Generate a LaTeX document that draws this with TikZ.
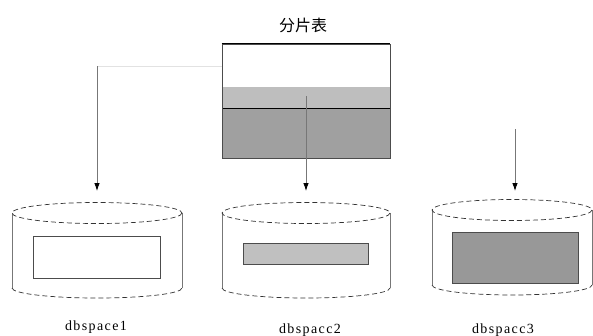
\documentclass[tikz,border=0pt]{standalone}
\usepackage{fontspec}
\newfontfamily\lblfont{Liberation Serif}[LetterSpace=10]
\newfontfamily\cjk{Noto Sans CJK SC}
\usetikzlibrary{arrows.meta}
\definecolor{lightg}{HTML}{BEBEBE}
\definecolor{darkg}{HTML}{A0A0A0}
\definecolor{midg}{HTML}{C0C0C0}
\definecolor{deepg}{HTML}{989898}
\definecolor{lineg}{HTML}{777777}
\definecolor{faintg}{HTML}{E2E2E2}
\newcommand{\dbcyl}[5]{%
  \draw[side] (#2-#3,#4) -- (#2-#3,#5);
  \draw[side] (#2+#3,#4) -- (#2+#3,#5);
  \draw[dsh] (#2,#4) ellipse [x radius=#3, y radius=10.5];
  \draw[dsh] (#2-#3,#5) arc[start angle=180, end angle=0, x radius=#3, y radius=10];
  \coordinate (#1) at (#2,#4-22);
}
\begin{document}
\begin{tikzpicture}[x=1pt,y=-1pt,
  side/.style={draw=lineg, line width=0.6pt},
  dsh/.style={draw=black!80, line width=0.7pt, dash pattern=on 5pt off 3pt},
  arr/.style={draw=lineg, line width=0.8pt, -{Latex[length=8pt,width=5.5pt,color=black]}},
  faint/.style={draw=faintg, line width=0.8pt},
  inner/.style={draw=black!70, line width=0.6pt},
  lbl/.style={font=\lblfont\fontsize{14}{16}\selectfont, inner sep=0pt}]
\useasboundingbox (0,0) rectangle (593,335);
% title
\node[font=\cjk\fontsize{16}{19}\selectfont, inner sep=0pt] (title) at (303,25) {分片表};
% table
\fill[white] (222,44) rectangle (390,87);
\fill[lightg] (222,87) rectangle (390,108);
\fill[darkg] (222,108) rectangle (390,158);
\draw[black, line width=0.9pt] (222,108) -- (390,108);
\node[draw=black!70, line width=0.7pt, minimum width=168pt, minimum height=114pt, inner sep=0pt] (tbl) at (306,101) {};
\draw[black, line width=0.9pt] (tbl.north west) -- (tbl.north east);
% cylinders
\dbcyl{c1}{97}{85}{213}{288}
\dbcyl{c2}{306}{84}{213}{288}
\dbcyl{c3}{512}{80}{210}{285}
% inner rectangles
\node[inner, fill=white, minimum width=127pt, minimum height=42pt, inner sep=0pt] (r1) at (96.5,257) {};
\node[inner, fill=midg, minimum width=125pt, minimum height=21pt, inner sep=0pt] (r2) at (305.5,253.5) {};
\node[inner, fill=deepg, minimum width=126pt, minimum height=51pt, inner sep=0pt] (r3) at (515,257.5) {};
% labels
\node[lbl] (l1) at (96,327) {dbspace1};
\node[lbl] (l2) at (310,330) {dbspacc2};
\node[lbl] (l3) at (503,330) {dbspacc3};
% connectors
\coordinate (s1) at (222,66);
\coordinate (k1) at (97,66);
\coordinate (s2) at (306,96);
\coordinate (s3) at (515,129);
\coordinate (e3) at (515,191);
\draw[faint] (s1) -- (k1);
\draw[arr] (k1) -- (c1);
\draw[arr] (s2) -- (c2);
\draw[arr] (s3) -- (e3);
\end{tikzpicture}
\end{document}
